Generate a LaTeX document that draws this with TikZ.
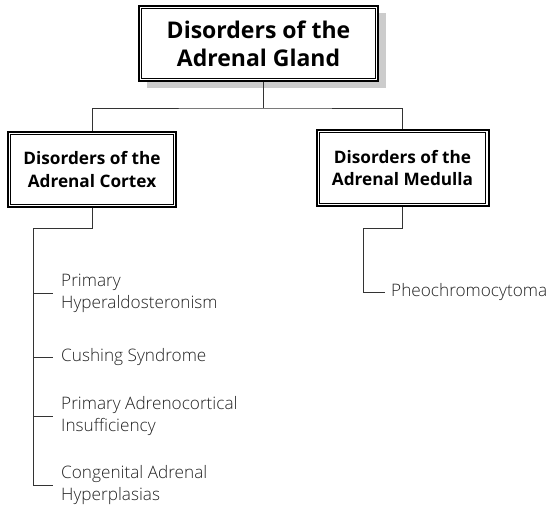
\documentclass[tikz,border=0pt]{standalone}
\usepackage{fontspec}
\setmainfont{Open Sans}
\newfontfamily\itemfont{Open Sans Light}
\usetikzlibrary{shadows}
\definecolor{ink}{HTML}{333333}
\definecolor{itemink}{HTML}{222222}
\definecolor{shade}{HTML}{CCCCCC}
\begin{document}
\begin{tikzpicture}[x=1pt,y=1pt,
  framed/.style={draw=black, line width=2pt, fill=white, inner sep=0pt,
    align=center, text=black},
  toptitle/.style={framed, font=\bfseries\fontsize{23}{28}\selectfont},
  subtitle/.style={framed, font=\bfseries\fontsize{17.2}{22.5}\selectfont},
  conn/.style={draw=ink, line width=1pt},
  item/.style={anchor=west, inner sep=0pt, align=left, text=itemink,
    font=\itemfont\fontsize{17.2}{22}\selectfont}
]
\useasboundingbox (0,0) rectangle (554,-507);

% top heading with shadow
\node[toptitle, minimum width=239pt, minimum height=75pt,
  drop shadow={shadow xshift=8pt, shadow yshift=-7pt, fill=shade, opacity=1}]
  (gland) at (258.5,-43.5) {Disorders of the\\Adrenal Gland};

% second level headings
\node[subtitle, minimum width=168pt, minimum height=75pt]
  (cortex) at (92,-169.5) {Disorders of the\\Adrenal Cortex};
\node[subtitle, minimum width=172pt, minimum height=76pt]
  (medulla) at (402.5,-168) {Disorders of the\\Adrenal Medulla};

% inner rule of each double frame
\foreach \n in {gland,cortex,medulla}
  \draw[line width=0.9pt]
    ([shift={(3.6pt,-3.6pt)}]\n.north west) rectangle
    ([shift={(-3.6pt,3.6pt)}]\n.south east);

% junction points
\coordinate (hub) at (263,-108);
\coordinate (cturn) at (33,-228);
\coordinate (mturn) at (363,-228);

% tree from the top heading
\draw[conn] (gland.south -| hub) -- (hub);
\draw[conn] (cortex.north) |- (hub) -| (medulla.north);

% cortex disorders
\node[item] (c1) at (61,-293) {Primary\\Hyperaldosteronism};
\node[item] (c2) at (61,-357) {Cushing Syndrome};
\node[item] (c3) at (61,-416) {Primary Adrenocortical\\Insufficiency};
\node[item] (c4) at (61,-485) {Congenital Adrenal\\Hyperplasias};

\draw[conn] (cortex.south) -- (cortex.south |- cturn) -- (cturn) -- (cturn |- c4.west) -- ++(20,0);
\foreach \c in {c1,c2,c3}
  \draw[conn] (cturn |- \c.west) -- ++(20,0);

% medulla disorder
\node[item] (m1) at (391,-292) {Pheochromocytoma};
\draw[conn] (medulla.south) -- (medulla.south |- mturn) -- (mturn) -- (mturn |- m1.west) -- ++(22,0);
\end{tikzpicture}
\end{document}
